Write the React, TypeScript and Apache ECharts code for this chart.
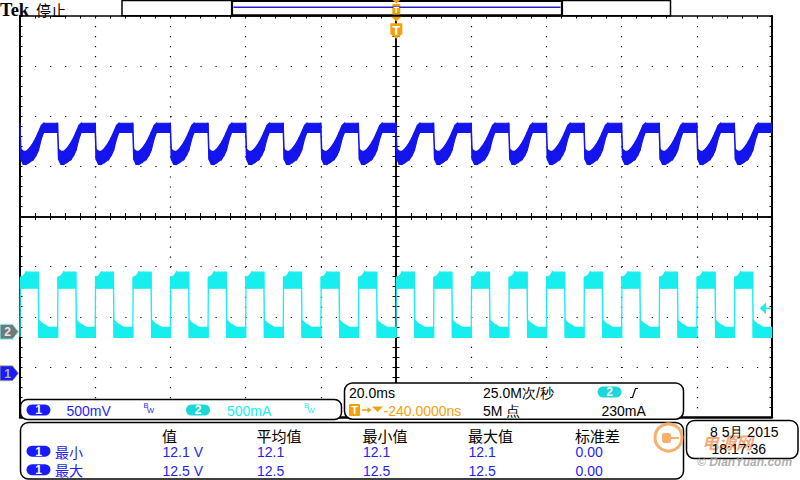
import React, { useEffect, useRef } from "react";
import * as echarts from "echarts";

// ---- timebase: trigger edges (ms, relative to trigger point at screen centre) ----
const triggerEdgesMs = [-100, -90, -80, -70, -60, -50, -40, -30, -20, -10, 0, 10, 20, 30, 40, 50, 60, 70, 80, 90];

// ---- CH1 (voltage ripple) shape of one cycle ----
const ch1CycleMs = [0, 0.25, 0.9, 1.6, 2.5, 3.6, 4.3, 4.9, 5.7, 6.3, 9.9];
const ch1UpperV = [12.5, 12.24, 12.22, 12.22, 12.25, 12.31, 12.36, 12.41, 12.48, 12.5, 12.5];
const ch1LowerV = [12.41, 12.14, 12.09, 12.09, 12.11, 12.14, 12.18, 12.23, 12.35, 12.41, 12.41];

// ---- CH2 (current) shape of one cycle ----
const ch2CycleMs = [0, 0.1, 0.9, 1.6, 4.85, 5.0, 5.8, 6.7, 7.6, 9.9];
const ch2UpperA = [0.05, 0.55, 0.56, 0.6, 0.6, 0.12, 0.09, 0.07, 0.05, 0.05];
const ch2LowerA = [-0.05, 0.44, 0.44, 0.44, 0.44, -0.05, -0.05, -0.05, -0.05, -0.05];

// ---- channel settings ----
const ch1VoltsPerDiv = 0.5;
const ch1OffsetV = 10;
const ch1PosDiv = -3.14;
const ch2AmpsPerDiv = 0.5;
const ch2PosDiv = -2.31;

// ---- measurement table ----
const measHeaders = ["值", "平均值", "最小值", "最大值", "标准差"];
const measRowLabels = ["最小", "最大"];
const measValues = [
  ["12.1 V", "12.1", "12.1", "12.1", "0.00"],
  ["12.5 V", "12.5", "12.5", "12.5", "0.00"],
];

const BLUE = "#1414ee";
const BLUE_TXT = "#1e1ef5";
const CYAN = "#18eeee";
const ORANGE = "#f5a00a";
const FONT = "Liberation Sans";
const CJK = "Noto Sans CJK SC";

// build band segments: [t0, upper0, lower0, t1, upper1, lower1] in divisions
function buildSegments(cycle: number[], upper: number[], lower: number[], toDiv: (v: number) => number) {
  const pts: number[][] = [];
  for (const e of triggerEdgesMs) {
    for (let i = 0; i < cycle.length; i++) {
      pts.push([e + cycle[i], toDiv(upper[i]), toDiv(lower[i])]);
    }
  }
  const segs: number[][] = [];
  for (let i = 0; i < pts.length - 1; i++) {
    segs.push([...pts[i], ...pts[i + 1]]);
  }
  return segs;
}

function txt(x: number, y: number, text: string, o: any = {}) {
  const align = o.align || "left";
  const size = o.size || 14;
  return {
    type: "text",
    x,
    y,
    z: 110,
    silent: true,
    style: {
      text,
      fill: o.fill || "#000",
      fontSize: size,
      fontFamily: o.family || FONT,
      fontWeight: o.weight || "normal",
      fontStyle: o.fontStyle || "normal",
      lineHeight: Math.round(size * 1.1),
      opacity: o.opacity == null ? 1 : o.opacity,
      textAlign: align,
      textVerticalAlign: "middle",
      align,
      verticalAlign: "middle",
    },
  };
}

function rrect(x: number, y: number, w: number, h: number, r: number, fill: string, stroke?: string, lw = 1.5) {
  return {
    type: "rect",
    z: 100,
    silent: true,
    shape: { x, y, width: w, height: h, r },
    style: { fill, stroke: stroke || null, lineWidth: lw },
  };
}

function pill(x: number, y: number, color: string, label: string) {
  return [rrect(x, y, 24, 11, 5.5, color), txt(x + 12, y + 5.8, label, { fill: "#fff", weight: "bold", size: 12, align: "center" })];
}

function bw(x: number, color: string) {
  return [txt(x, 405.5, "B", { fill: color, size: 7.5 }), txt(x + 3.5, 410.5, "W", { fill: color, size: 7.5 })];
}

export default function App() {
  const ref = useRef<HTMLDivElement>(null);
  useEffect(() => {
    if (!ref.current) return;
    const chart = echarts.init(ref.current, undefined, { renderer: "svg" });

    const ch1 = buildSegments(ch1CycleMs, ch1UpperV, ch1LowerV, (v) => (v - ch1OffsetV) / ch1VoltsPerDiv + ch1PosDiv);
    const ch2 = buildSegments(ch2CycleMs, ch2UpperA, ch2LowerA, (a) => a / ch2AmpsPerDiv + ch2PosDiv);

    const black = { color: "#000" };
    const baseX = {
      type: "value",
      min: -100,
      max: 100,
      interval: 20,
      axisLabel: { show: false },
      splitLine: { show: false },
      axisTick: { show: false },
    };
    const baseY = {
      type: "value",
      min: -4,
      max: 4,
      interval: 1,
      axisLabel: { show: false },
      splitLine: { show: false },
      axisTick: { show: false },
    };
    const ticks = (len: number) => ({
      axisTick: { show: true, inside: true, length: len, lineStyle: { ...black, width: 1 } },
      minorTick: { show: true, splitNumber: 5, length: len, lineStyle: { ...black, width: 1 } },
    });

    const bandSeries = (name: string, data: number[][], color: string) => ({
      type: "custom",
      name,
      data,
      silent: true,
      z: 5,
      encode: { x: [0, 3], y: [1, 2, 4, 5] },
      renderItem: (_params: any, api: any) => {
        const p0u = api.coord([api.value(0), api.value(1)]);
        const p1u = api.coord([api.value(3), api.value(4)]);
        const p1l = api.coord([api.value(3), api.value(5)]);
        const p0l = api.coord([api.value(0), api.value(2)]);
        return {
          type: "polygon",
          shape: { points: [p0u, p1u, p1l, p0l] },
          style: { fill: color, stroke: color, lineWidth: 1.2 },
        };
      },
    });

    const graphics: any[] = [
      // header
      txt(0, 9.5, "Tek", { family: "Liberation Serif", weight: "bold", size: 18.5 }),
      txt(36, 9.5, "停止", { family: CJK, size: 15 }),
      // record view bar
      rrect(122, 0.5, 548.5, 15.2, 0, "#fff", "#000", 1.5),
      rrect(232, 0.8, 330, 14.6, 0, "#fff", "#000", 2.2),
      { type: "line", z: 101, silent: true, shape: { x1: 233.5, y1: 7.3, x2: 560.5, y2: 7.3 }, style: { stroke: "#2222cc", lineWidth: 1.5 } },
      // small trigger marker in bar
      { type: "polygon", z: 105, silent: true, shape: { points: [[392.3, 0], [400.3, 0], [396.3, 3.5]] }, style: { fill: ORANGE } },
      rrect(392.3, 4, 8, 10.5, 1, ORANGE),
      txt(396.3, 9.5, "T", { fill: "#fff", weight: "bold", size: 9, align: "center" }),
      // big trigger marker
      { type: "polygon", z: 105, silent: true, shape: { points: [[391, 16.8], [401.6, 16.8], [396.3, 21.5]] }, style: { fill: ORANGE } },
      { type: "polygon", z: 105, silent: true, shape: { points: [[390.3, 23.2], [402.3, 23.2], [402.3, 34], [396.3, 38.8], [390.3, 34]] }, style: { fill: ORANGE } },
      txt(396.3, 30, "T", { fill: "#fff", weight: "bold", size: 13, align: "center" }),
      // channel ground markers
      { type: "polygon", z: 105, silent: true, shape: { points: [[0, 324.2], [12.5, 324.2], [18.5, 331.7], [12.5, 339.2], [0, 339.2]] }, style: { fill: "#6e7a7a", stroke: "#8ff", lineWidth: 1 } },
      txt(7.5, 332.2, "2", { fill: "#e6e6e6", weight: "bold", size: 12, align: "center" }),
      { type: "polygon", z: 105, silent: true, shape: { points: [[0, 365.8], [12.5, 365.8], [18.5, 373.3], [12.5, 380.8], [0, 380.8]] }, style: { fill: "#1a1aff", stroke: "#b4b47a", lineWidth: 0.8 } },
      txt(7.5, 373.8, "1", { fill: "#b4b48a", weight: "bold", size: 12, align: "center" }),
      // trigger level arrow (right)
      { type: "polygon", z: 105, silent: true, shape: { points: [[759.8, 308.3], [766, 302.5], [766, 314.1]] }, style: { fill: CYAN } },
      { type: "line", z: 105, silent: true, shape: { x1: 765, y1: 308.3, x2: 771, y2: 308.3 }, style: { stroke: CYAN, lineWidth: 1.5 } },

      // channel settings box
      rrect(20.5, 399.5, 321, 20, 7, "#fff", "#000", 1.5),
      ...pill(26.5, 404.5, "#1a1aff", "1"),
      txt(66.5, 410.5, "500mV", { fill: BLUE_TXT }),
      ...bw(143.5, BLUE_TXT),
      ...pill(186, 404.5, "#1ad8d8", "2"),
      txt(227, 410.5, "500mA", { fill: CYAN }),
      ...bw(304, CYAN),

      // timebase / trigger box
      rrect(344.5, 383, 339, 36.2, 8, "#fff", "#000", 1.5),
      txt(349, 393, "20.0ms"),
      txt(483, 393, "25.0M次/秒", { family: FONT }),
      ...pill(597.5, 386.5, "#1ad8d8", "2"),
      { type: "polyline", z: 110, silent: true, shape: { points: [[630, 397.5], [632.5, 397.5], [635.5, 388.5], [638, 388.5]] }, style: { stroke: "#000", lineWidth: 1.2, fill: null } },
      rrect(349, 404, 11, 12, 1, ORANGE),
      txt(354.5, 410.3, "T", { fill: "#fff", weight: "bold", size: 11, align: "center" }),
      { type: "line", z: 110, silent: true, shape: { x1: 362, y1: 410, x2: 370, y2: 410 }, style: { stroke: ORANGE, lineWidth: 1.5 } },
      { type: "polygon", z: 110, silent: true, shape: { points: [[367.5, 407], [371.5, 410], [367.5, 413]] }, style: { fill: ORANGE } },
      { type: "polygon", z: 110, silent: true, shape: { points: [[372, 406.5], [383, 406.5], [377.5, 412]] }, style: { fill: ORANGE } },
      txt(383.5, 410.5, "-240.0000ns", { fill: ORANGE }),
      txt(483, 410.5, "5M 点"),
      txt(601.5, 410.5, "230mA"),

      // measurement box
      rrect(20.5, 422.5, 663, 56.5, 8, "#fff", "#000", 1.5),
      // watermark logo
      { type: "circle", z: 101, silent: true, shape: { cx: 668.5, cy: 437.5, r: 13.5 }, style: { fill: null, stroke: "#f6b06a", lineWidth: 3 } },
      { type: "rect", z: 101, silent: true, shape: { x: 662, y: 433, width: 9, height: 10, r: 2 }, style: { fill: "#f6b06a" } },
      { type: "line", z: 101, silent: true, shape: { x1: 671, y1: 438, x2: 679, y2: 438 }, style: { stroke: "#f6b06a", lineWidth: 2 } },

      // date box
      rrect(686.5, 420.5, 111.5, 38, 8, "#fff", "#000", 1.5),
      txt(702, 441, "电源网", { family: CJK, size: 17, weight: "bold", fill: "#f07830", opacity: 0.65, fontStyle: "italic" }),
      txt(710, 431.5, "8 5月 2015", { family: FONT }),
      txt(711.5, 448.5, "18:17:36"),
      txt(697, 462, "© DianYuan.com", { size: 12, weight: "bold", fontStyle: "italic", fill: "#a0a0a0", opacity: 0.85 }),
    ];

    const headerX = [162, 256.5, 362.5, 468, 575];
    measHeaders.forEach((h, i) => graphics.push(txt(headerX[i], 435, h, { family: CJK, size: 15 })));
    const rowY = [451.5, 470];
    measRowLabels.forEach((lab, r) => {
      graphics.push(...pill(26.5, rowY[r] - 5.8, "#1a1aff", "1"));
      graphics.push(txt(55, rowY[r], lab, { family: CJK, size: 14, fill: BLUE_TXT }));
      measValues[r].forEach((v, i) => graphics.push(txt(headerX[i] + 0.5, rowY[r] + 0.5, v, { fill: BLUE_TXT })));
    });

    chart.setOption({
      animation: false,
      backgroundColor: "#fff",
      grid: { left: 20, top: 16, right: 28, bottom: 63, containLabel: false, outerBoundsMode: "none" },
      xAxis: [
        {
          ...baseX,
          position: "bottom",
          axisLine: { show: true, onZero: false, lineStyle: { ...black, width: 2.5 } },
          splitLine: { show: true, lineStyle: { ...black, width: 1.2, type: [1.2, 8.825] } },
        },
        {
          ...baseX,
          position: "top",
          axisLine: { show: true, onZero: false, lineStyle: { ...black, width: 1.5 } },
          ...ticks(2.5),
        },
        {
          ...baseX,
          position: "bottom",
          axisLine: { show: true, onZero: true, onZeroAxisIndex: 0, lineStyle: { ...black, width: 1.5 } },
          ...ticks(3.5),
        },
        {
          ...baseX,
          position: "top",
          axisLine: { show: true, onZero: true, onZeroAxisIndex: 0, lineStyle: { ...black, width: 1.5 } },
          ...ticks(3.5),
        },
      ],
      yAxis: [
        {
          ...baseY,
          position: "left",
          axisLine: { show: true, onZero: false, lineStyle: { ...black, width: 2 } },
          splitLine: { show: true, lineStyle: { ...black, width: 1.2, type: [1.2, 13.84] } },
          ...ticks(2.5),
        },
        {
          ...baseY,
          position: "right",
          axisLine: { show: true, onZero: false, lineStyle: { ...black, width: 2 } },
          ...ticks(2.5),
        },
        {
          ...baseY,
          position: "left",
          axisLine: { show: true, onZero: true, onZeroAxisIndex: 0, lineStyle: { ...black, width: 1.5 } },
          ...ticks(3.5),
        },
        {
          ...baseY,
          position: "right",
          axisLine: { show: true, onZero: true, onZeroAxisIndex: 0, lineStyle: { ...black, width: 1.5 } },
          ...ticks(3.5),
        },
      ],
      series: [bandSeries("CH2", ch2, CYAN), bandSeries("CH1", ch1, BLUE)],
      graphic: graphics,
    });
    return () => chart.dispose();
  }, []);
  return <div ref={ref} style={{ position: "fixed", left: 0, top: 0, width: 800, height: 480 }} />;
}
